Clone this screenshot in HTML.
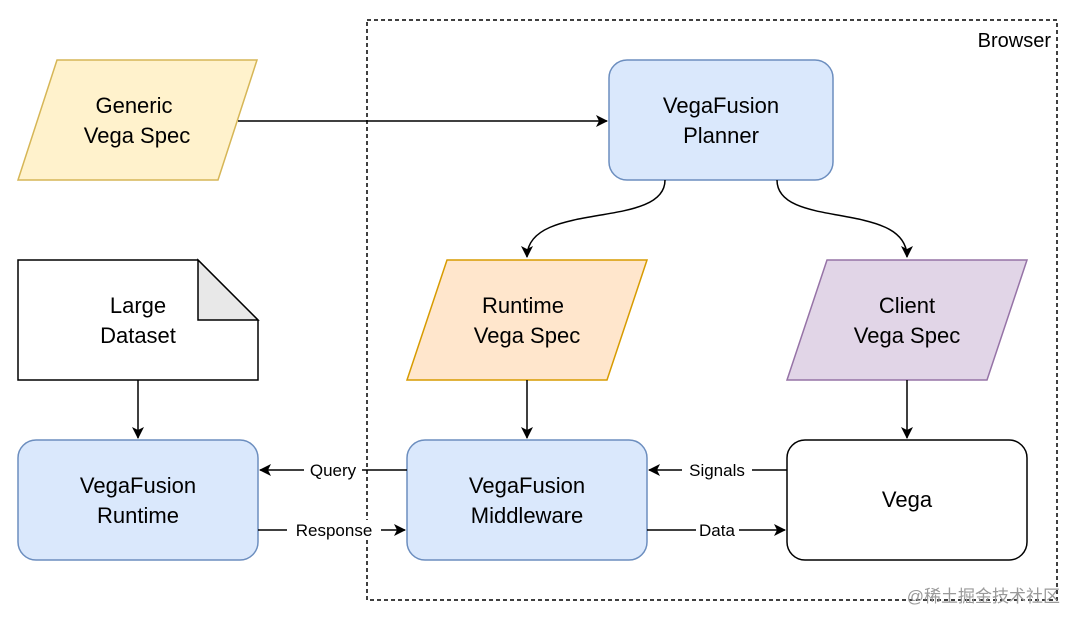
<!DOCTYPE html>
<html><head><meta charset="utf-8"><style>
html,body{margin:0;padding:0;background:#fff;}
svg{display:block;}
text{font-family:"Liberation Sans",Arial,sans-serif;}
</style></head><body>
<svg width="1080" height="625" viewBox="0 0 1080 625" xmlns="http://www.w3.org/2000/svg">
<defs>
<marker id="a" markerWidth="12" markerHeight="12" refX="11" refY="6" orient="auto" markerUnits="userSpaceOnUse">
<path d="M0,0 L12,6 L0,12 L3,6 Z" fill="#000"/>
</marker>
</defs>
<rect x="367" y="20" width="690" height="580" fill="none" stroke="#000" stroke-width="1.5" stroke-dasharray="4,3"/>
<text x="1051" y="47" font-size="20" text-anchor="end">Browser</text>

<polygon points="57,60 257,60 218,180 18,180" fill="#fff2cc" stroke="#d6b656" stroke-width="1.5"/>
<text x="134" y="113" font-size="22" text-anchor="middle">Generic</text>
<text x="137" y="143" font-size="22" text-anchor="middle">Vega Spec</text>

<line x1="238" y1="121" x2="607" y2="121" stroke="#000" stroke-width="1.5" marker-end="url(#a)"/>

<rect x="609" y="60" width="224" height="120" rx="18" fill="#dae8fc" stroke="#6c8ebf" stroke-width="1.5"/>
<text x="721" y="113" font-size="22" text-anchor="middle">VegaFusion</text>
<text x="721" y="143" font-size="22" text-anchor="middle">Planner</text>

<path d="M665,180 C665,230 527,200 527,257" fill="none" stroke="#000" stroke-width="1.5" marker-end="url(#a)"/>
<path d="M777,180 C777,230 907,200 907,257" fill="none" stroke="#000" stroke-width="1.5" marker-end="url(#a)"/>

<polygon points="447,260 647,260 607,380 407,380" fill="#ffe6cc" stroke="#d79b00" stroke-width="1.5"/>
<text x="523" y="313" font-size="22" text-anchor="middle">Runtime</text>
<text x="527" y="343" font-size="22" text-anchor="middle">Vega Spec</text>

<polygon points="827,260 1027,260 987,380 787,380" fill="#e1d5e7" stroke="#9673a6" stroke-width="1.5"/>
<text x="907" y="313" font-size="22" text-anchor="middle">Client</text>
<text x="907" y="343" font-size="22" text-anchor="middle">Vega Spec</text>

<path d="M18,260 L198,260 L258,320 L258,380 L18,380 Z" fill="#fff" stroke="#000" stroke-width="1.5"/>
<path d="M198,260 L198,320 L258,320 Z" fill="#e8e8e8" stroke="#000" stroke-width="1.5"/>
<text x="138" y="313" font-size="22" text-anchor="middle">Large</text>
<text x="138" y="343" font-size="22" text-anchor="middle">Dataset</text>

<line x1="138" y1="380" x2="138" y2="438" stroke="#000" stroke-width="1.5" marker-end="url(#a)"/>
<line x1="527" y1="380" x2="527" y2="438" stroke="#000" stroke-width="1.5" marker-end="url(#a)"/>
<line x1="907" y1="380" x2="907" y2="438" stroke="#000" stroke-width="1.5" marker-end="url(#a)"/>

<rect x="18" y="440" width="240" height="120" rx="18" fill="#dae8fc" stroke="#6c8ebf" stroke-width="1.5"/>
<text x="138" y="493" font-size="22" text-anchor="middle">VegaFusion</text>
<text x="138" y="523" font-size="22" text-anchor="middle">Runtime</text>

<rect x="407" y="440" width="240" height="120" rx="18" fill="#dae8fc" stroke="#6c8ebf" stroke-width="1.5"/>
<text x="527" y="493" font-size="22" text-anchor="middle">VegaFusion</text>
<text x="527" y="523" font-size="22" text-anchor="middle">Middleware</text>

<rect x="787" y="440" width="240" height="120" rx="18" fill="#fff" stroke="#000" stroke-width="1.5"/>
<text x="907" y="507" font-size="22" text-anchor="middle">Vega</text>

<line x1="407" y1="470" x2="260" y2="470" stroke="#000" stroke-width="1.5" marker-end="url(#a)"/>
<rect x="304" y="460" width="58" height="20" fill="#fff"/>
<text x="333" y="476" font-size="17" text-anchor="middle">Query</text>

<line x1="258" y1="530" x2="405" y2="530" stroke="#000" stroke-width="1.5" marker-end="url(#a)"/>
<rect x="287" y="520" width="94" height="20" fill="#fff"/>
<text x="334" y="536" font-size="17" text-anchor="middle">Response</text>

<line x1="787" y1="470" x2="649" y2="470" stroke="#000" stroke-width="1.5" marker-end="url(#a)"/>
<rect x="682" y="460" width="70" height="20" fill="#fff"/>
<text x="717" y="476" font-size="17" text-anchor="middle">Signals</text>

<line x1="647" y1="530" x2="785" y2="530" stroke="#000" stroke-width="1.5" marker-end="url(#a)"/>
<rect x="696" y="520" width="43" height="20" fill="#fff"/>
<text x="717" y="536" font-size="17" text-anchor="middle">Data</text>

<text x="1060" y="602" font-size="17" text-anchor="end" fill="#9a9a9a" style="font-family:'Liberation Sans','Noto Sans CJK SC',sans-serif">@稀土掘金技术社区</text>
</svg>
</body></html>
